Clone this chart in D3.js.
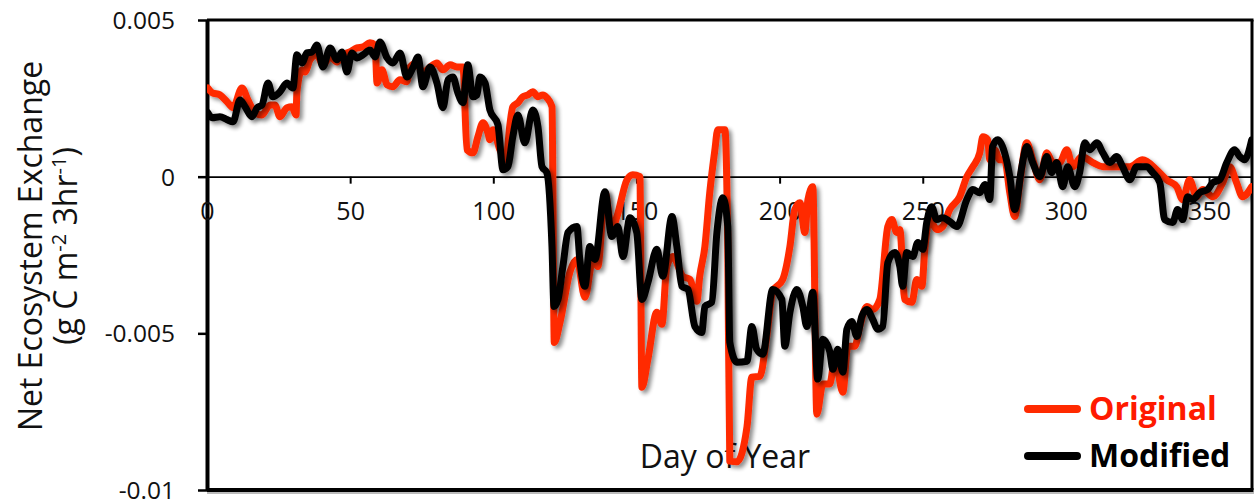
<!DOCTYPE html>
<html>
<head>
<meta charset="utf-8">
<script src="https://cdn.jsdelivr.net/npm/d3@7/dist/d3.min.js"></script>
<style>
  html, body { margin: 0; padding: 0; background: #fff; }
  svg { display: block; }
  text { font-family: "Open Sans", "Noto Sans", sans-serif; fill: #111; }
</style>
</head>
<body>
<svg id="chart" width="1254" height="503"></svg>
<script>
// ---------- DATA ----------
const seriesNames = ["Original", "Modified"];
const xTicks = [0, 50, 100, 150, 200, 250, 300, 350];
const xTickLabels = ["0", "50", "100", "150", "200", "250", "300", "350"];
const yTicks = [0.005, 0, -0.005, -0.01];
const yTickLabels = ["0.005", "0", "-0.005", "-0.01"];

const origDay = [0.3,1.8,4.5,7.0,9.1,12.2,14.3,16.8,19.2,22.0,23.7,25.5,27.9,29.7,31.1,31.4,33.2,34.2,36.0,38.4,40.5,43.0,45.4,47.5,49.9,52.4,54.5,56.9,58.7,59.4,61.1,62.9,64.9,67.4,69.8,70.9,73.3,75.4,77.9,80.3,82.4,84.9,87.3,89.4,90.8,92.9,94.6,96.4,98.1,98.8,99.9,102.3,104.4,105.8,106.8,108.6,110.3,112.1,113.8,115.6,117.3,118.7,120.5,121.3,123.3,126.8,129.2,132.0,134.8,136.5,139.0,141.4,143.2,146.7,148.7,151.2,151.9,154.0,157.1,158.9,160.6,162.7,166.2,168.7,171.1,172.1,173.9,175.6,177.4,178.4,180.9,181.9,182.6,185.1,188.6,190.3,193.1,195.5,197.6,201.1,203.6,205.3,207.1,208.8,209.9,211.6,213.0,215.1,217.5,219.3,222.1,223.8,226.3,228.0,230.5,232.5,235.0,237.8,239.2,240.9,242.0,243.7,246.2,247.9,249.7,250.7,252.4,254.9,257.0,259.4,262.9,265.4,267.5,269.9,271.0,272.7,273.4,275.1,276.9,278.6,280.4,282.1,283.9,286.3,288.4,290.9,293.3,295.4,297.8,300.3,302.4,305.5,309.4,312.9,317.7,322.3,326.8,331.7,335.2,338.7,340.8,343.2,345.7,347.8,351.3,354.8,357.2,359.6,361.7,364.9];
const origNEE = [0.00283,0.00268,0.00261,0.00239,0.00220,0.00283,0.00245,0.00204,0.00197,0.00229,0.00229,0.00191,0.00220,0.00223,0.00197,0.00271,0.00341,0.00334,0.00373,0.00389,0.00357,0.00382,0.00366,0.00389,0.00398,0.00411,0.00414,0.00427,0.00420,0.00299,0.00341,0.00293,0.00287,0.00309,0.00303,0.00350,0.00363,0.00331,0.00350,0.00363,0.00341,0.00357,0.00350,0.00350,0.00086,0.00076,0.00127,0.00172,0.00140,0.00118,0.00150,0.00086,0.00054,0.00166,0.00223,0.00236,0.00255,0.00261,0.00271,0.00255,0.00261,0.00252,0.00223,-0.00529,-0.00465,-0.00303,-0.00264,-0.00385,-0.00264,-0.00287,-0.00051,-0.00169,-0.00127,-0.00010,0.00006,0.00000,-0.00672,-0.00583,-0.00433,-0.00471,-0.00287,-0.00255,-0.00318,-0.00328,-0.00398,-0.00318,-0.00223,-0.00051,0.00086,0.00150,0.00150,-0.00232,-0.00908,-0.00910,-0.00799,-0.00640,-0.00637,-0.00510,-0.00366,-0.00328,-0.00223,-0.00105,-0.00083,-0.00178,-0.00073,-0.00032,-0.00758,-0.00662,-0.00662,-0.00583,-0.00688,-0.00541,-0.00541,-0.00478,-0.00414,-0.00424,-0.00392,-0.00159,-0.00137,-0.00178,-0.00169,-0.00392,-0.00401,-0.00328,-0.00350,-0.00232,-0.00137,-0.00169,-0.00159,-0.00105,-0.00064,0.00000,0.00032,0.00076,0.00127,0.00118,0.00054,0.00086,0.00054,0.00054,-0.00051,-0.00127,-0.00019,0.00108,0.00054,-0.00010,0.00076,0.00045,0.00045,0.00086,0.00032,0.00064,0.00045,0.00032,0.00032,0.00032,0.00054,0.00022,-0.00010,-0.00032,-0.00073,-0.00010,-0.00064,-0.00041,-0.00064,-0.00019,0.00032,-0.00019,-0.00064,-0.00032];

const modDay = [0.3,1.8,4.5,7.0,9.1,11.5,13.3,15.7,17.5,19.2,21.3,23.0,25.5,27.9,30.0,31.4,33.2,34.9,36.7,38.4,40.5,43.0,45.4,47.1,48.9,50.6,52.4,54.5,56.9,58.7,60.4,62.9,64.9,67.4,69.8,71.9,73.7,75.4,77.9,80.3,82.4,84.2,85.9,87.6,89.4,91.1,92.9,94.3,95.3,97.1,98.8,101.6,103.4,105.1,106.8,108.6,111.0,113.8,115.6,117.0,118.7,120.5,121.2,122.6,124.3,126.1,129.2,130.2,132.0,133.7,135.5,139.0,141.4,143.5,145.3,147.7,150.1,151.9,154.0,157.1,159.2,162.4,164.1,165.9,168.0,170.4,172.8,173.9,176.3,178.1,180.2,181.9,182.6,185.1,188.6,190.3,192.0,194.1,197.6,200.8,201.8,203.6,206.0,208.1,209.5,211.6,213.3,215.1,217.5,218.6,220.3,222.1,223.5,225.2,227.0,228.7,230.5,232.5,234.3,236.0,237.8,240.2,242.0,243.0,244.4,246.5,248.3,250.0,251.4,253.1,254.9,257.0,259.4,261.9,265.4,267.5,269.9,271.7,273.4,274.4,276.2,278.6,280.4,282.1,284.6,286.3,288.4,290.9,293.3,295.0,296.8,298.9,300.6,303.1,304.8,306.6,308.3,310.8,312.9,315.3,317.7,319.8,322.3,324.7,328.2,330.3,332.8,334.5,337.3,339.0,340.8,342.5,344.3,346.7,349.5,351.3,353.7,356.2,358.9,360.7,362.4,364.9];
const modNEE = [0.00204,0.00188,0.00191,0.00182,0.00175,0.00245,0.00223,0.00191,0.00220,0.00229,0.00299,0.00255,0.00271,0.00299,0.00283,0.00389,0.00363,0.00395,0.00398,0.00420,0.00350,0.00411,0.00373,0.00398,0.00334,0.00395,0.00379,0.00389,0.00404,0.00382,0.00430,0.00379,0.00363,0.00395,0.00318,0.00347,0.00382,0.00287,0.00350,0.00299,0.00220,0.00309,0.00318,0.00268,0.00236,0.00357,0.00255,0.00261,0.00318,0.00299,0.00213,0.00166,0.00022,0.00032,0.00127,0.00197,0.00108,0.00213,0.00159,0.00032,0.00013,-0.00223,-0.00414,-0.00392,-0.00287,-0.00178,-0.00159,-0.00264,-0.00350,-0.00223,-0.00264,-0.00048,-0.00191,-0.00159,-0.00255,-0.00131,-0.00178,-0.00392,-0.00338,-0.00232,-0.00318,-0.00127,-0.00223,-0.00350,-0.00360,-0.00478,-0.00497,-0.00414,-0.00401,-0.00178,-0.00067,-0.00159,-0.00529,-0.00592,-0.00589,-0.00478,-0.00551,-0.00567,-0.00360,-0.00392,-0.00541,-0.00433,-0.00360,-0.00414,-0.00478,-0.00369,-0.00646,-0.00519,-0.00557,-0.00615,-0.00551,-0.00624,-0.00487,-0.00462,-0.00510,-0.00446,-0.00424,-0.00455,-0.00487,-0.00478,-0.00274,-0.00242,-0.00287,-0.00350,-0.00242,-0.00255,-0.00210,-0.00232,-0.00146,-0.00096,-0.00137,-0.00131,-0.00143,-0.00159,-0.00073,-0.00041,-0.00051,-0.00025,-0.00073,0.00096,0.00118,0.00076,0.00000,-0.00105,0.00032,0.00096,0.00045,0.00000,0.00064,0.00013,0.00045,-0.00032,0.00032,-0.00032,0.00013,0.00108,0.00086,0.00108,0.00076,0.00045,0.00064,0.00032,-0.00010,0.00032,0.00032,0.00013,-0.00019,-0.00137,-0.00146,-0.00105,-0.00137,-0.00064,-0.00073,-0.00051,-0.00041,-0.00019,-0.00010,0.00045,0.00086,0.00064,0.00054,0.00118];

const colors = ["#ff2a00", "#000000"];

// ---------- CHART ----------
const svg = d3.select("#chart");
const L = 207, R = 1252, T = 20, B = 490;

const x = d3.scaleLinear().domain([0, 365]).range([L, R]);
const y = d3.scaleLinear().domain([-0.01, 0.005]).range([B, T]);

const defs = svg.append("defs");
const f = defs.append("filter").attr("id", "shadow")
  .attr("x", "-5%").attr("y", "-5%").attr("width", "110%").attr("height", "110%");
f.append("feGaussianBlur").attr("in", "SourceAlpha").attr("stdDeviation", 2.2).attr("result", "b");
f.append("feOffset").attr("in", "b").attr("dx", 3).attr("dy", 3).attr("result", "o");
f.append("feComponentTransfer").attr("in", "o").attr("result", "s")
  .append("feFuncA").attr("type", "linear").attr("slope", 0.45);
const m = f.append("feMerge");
m.append("feMergeNode").attr("in", "s");
m.append("feMergeNode").attr("in", "SourceGraphic");

defs.append("clipPath").attr("id", "plotclip")
  .append("rect").attr("x", L).attr("y", T).attr("width", R - L).attr("height", B - T);

// frame shadow
svg.append("line").attr("x1", L).attr("x2", R + 2).attr("y1", B + 3).attr("y2", B + 3)
  .attr("stroke", "#bbb").attr("stroke-width", 2);

// Frame (top, right, bottom)
svg.append("line").attr("x1", L).attr("x2", R + 1.5).attr("y1", T).attr("y2", T)
  .attr("stroke", "#000").attr("stroke-width", 3);
svg.append("line").attr("x1", R).attr("x2", R).attr("y1", T).attr("y2", B)
  .attr("stroke", "#000").attr("stroke-width", 3);
svg.append("line").attr("x1", L).attr("x2", R + 1.5).attr("y1", B).attr("y2", B)
  .attr("stroke", "#000").attr("stroke-width", 4);

// Y axis
const yAxis = svg.append("g").attr("transform", `translate(${L},0)`)
  .call(d3.axisLeft(y).tickValues(yTicks).tickSize(9).tickSizeOuter(0)
    .tickFormat((d, i) => yTickLabels[i]));
yAxis.select(".domain").attr("stroke", "#000").attr("stroke-width", 4);
yAxis.selectAll(".tick line").attr("stroke", "#000").attr("stroke-width", 2.5);
yAxis.selectAll(".tick text").attr("x", -32).attr("dy", "0.35em")
  .style("font-size", "24.5px").style("font-family", '"Open Sans", sans-serif').attr("fill", "#111");

// X axis at zero
const xAxis = svg.append("g").attr("transform", `translate(0,${y(0)})`)
  .call(d3.axisBottom(x).tickValues(xTicks).tickSize(7).tickSizeOuter(0)
    .tickFormat((d, i) => xTickLabels[i]));
xAxis.select(".domain").attr("stroke", "#000").attr("stroke-width", 1.8);
xAxis.selectAll(".tick line").attr("stroke", "#000").attr("stroke-width", 2);
xAxis.selectAll(".tick").filter(d => d === 0).select("line").remove();
xAxis.selectAll(".tick text").attr("y", 43).attr("dy", 0)
  .style("font-size", "25px").style("font-family", '"Open Sans", sans-serif').attr("fill", "#111");

// Axis titles
const yt = svg.append("text")
  .attr("transform", `translate(42,246) rotate(-90)`)
  .attr("text-anchor", "middle")
  .style("font-size", "32px");
yt.append("tspan").attr("x", 0).attr("y", 0).text("Net Ecosystem Exchange");
const l2 = yt.append("tspan").attr("x", 0).attr("y", 35);
l2.append("tspan").text("(g C m");
l2.append("tspan").attr("dy", -11).style("font-size", "20px").text("-2");
l2.append("tspan").attr("dy", 11).text(" 3hr");
l2.append("tspan").attr("dy", -11).style("font-size", "20px").text("-1");
l2.append("tspan").attr("dy", 11).text(")");

svg.append("text").attr("x", 725).attr("y", 468).attr("text-anchor", "middle")
  .style("font-size", "32px").text("Day of Year");

// Lines
const line = d3.line().curve(d3.curveMonotoneX).x(d => x(d[0])).y(d => y(d[1]));
const data = [
  d3.zip(origDay, origNEE),
  d3.zip(modDay, modNEE)
];
const lg = svg.append("g").attr("clip-path", "url(#plotclip)");
data.forEach((d, i) => {
  lg.append("path").datum(d)
    .attr("d", line)
    .attr("fill", "none")
    .attr("stroke", colors[i])
    .attr("stroke-width", 7)
    .attr("stroke-linejoin", "round")
    .attr("stroke-linecap", "round")
    .attr("filter", "url(#shadow)");
});

// Legend
const legY = [409, 456];
const legTextColors = ["#ff1a00", "#000"];
seriesNames.forEach((n, i) => {
  svg.append("line").attr("x1", 1028).attr("x2", 1077).attr("y1", legY[i]).attr("y2", legY[i])
    .attr("stroke", colors[i]).attr("stroke-width", 8).attr("stroke-linecap", "round");
  svg.append("text").attr("x", 1089).attr("y", legY[i] + 11)
    .style("font-size", "32px").style("font-weight", "bold")
    .attr("fill", legTextColors[i]).style("fill", legTextColors[i]).text(n);
});
</script>
</body>
</html>
